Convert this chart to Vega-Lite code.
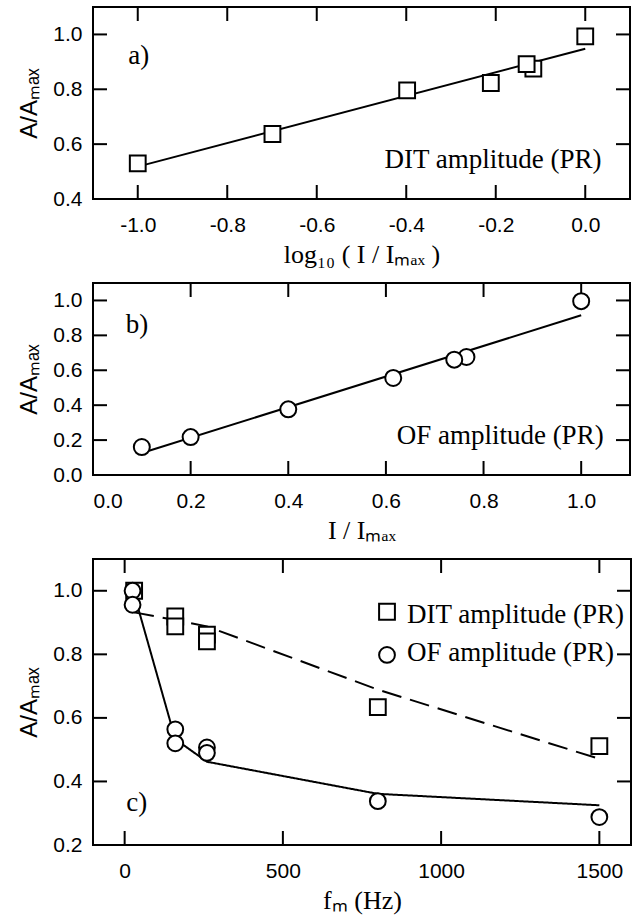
{
  "$schema": "https://vega.github.io/schema/vega-lite/v6.json",
  "background": "white",
  "padding": {"left": 16, "top": 6, "right": 2, "bottom": 2},
  "spacing": 84,
  "bounds": "flush",
  "datasets": {
    "a_pts": [
      {"x": -1.0, "y": 0.530},
      {"x": -0.699, "y": 0.637},
      {"x": -0.398, "y": 0.796},
      {"x": -0.211, "y": 0.823},
      {"x": -0.116, "y": 0.875},
      {"x": -0.131, "y": 0.892},
      {"x": 0.0, "y": 0.993}
    ],
    "a_fit": [
      {"x": -1.0, "y": 0.518},
      {"x": 0.0, "y": 0.948}
    ],
    "a_txt": [
      {"x": -0.998, "y": 0.923, "t": "a)"},
      {"x": -0.206, "y": 0.543, "t": "DIT amplitude (PR)"}
    ],
    "a_tv": [
      {"x": -1.0, "y": 0.4}, {"x": -0.8, "y": 0.4}, {"x": -0.6, "y": 0.4}, {"x": -0.4, "y": 0.4}, {"x": -0.2, "y": 0.4}, {"x": 0.0, "y": 0.4},
      {"x": -1.0, "y": 1.1}, {"x": -0.8, "y": 1.1}, {"x": -0.6, "y": 1.1}, {"x": -0.4, "y": 1.1}, {"x": -0.2, "y": 1.1}, {"x": 0.0, "y": 1.1}
    ],
    "a_th": [
      {"x": -1.1, "y": 0.6}, {"x": -1.1, "y": 0.8}, {"x": -1.1, "y": 1.0},
      {"x": 0.1, "y": 0.6}, {"x": 0.1, "y": 0.8}, {"x": 0.1, "y": 1.0}
    ],
    "b_pts": [
      {"x": 0.1, "y": 0.160},
      {"x": 0.2, "y": 0.217},
      {"x": 0.4, "y": 0.376},
      {"x": 0.615, "y": 0.556},
      {"x": 0.765, "y": 0.676},
      {"x": 0.74, "y": 0.661},
      {"x": 1.0, "y": 0.996}
    ],
    "b_fit": [
      {"x": 0.1, "y": 0.126},
      {"x": 1.0, "y": 0.915}
    ],
    "b_txt": [
      {"x": 0.09, "y": 0.862, "t": "b)"},
      {"x": 0.834, "y": 0.224, "t": "OF amplitude (PR)"}
    ],
    "b_tv": [
      {"x": 0.2, "y": 0}, {"x": 0.4, "y": 0}, {"x": 0.6, "y": 0}, {"x": 0.8, "y": 0}, {"x": 1.0, "y": 0},
      {"x": 0.2, "y": 1.1}, {"x": 0.4, "y": 1.1}, {"x": 0.6, "y": 1.1}, {"x": 0.8, "y": 1.1}, {"x": 1.0, "y": 1.1}
    ],
    "b_th": [
      {"x": 0, "y": 0.2}, {"x": 0, "y": 0.4}, {"x": 0, "y": 0.6}, {"x": 0, "y": 0.8}, {"x": 0, "y": 1.0},
      {"x": 1.1, "y": 0.2}, {"x": 1.1, "y": 0.4}, {"x": 1.1, "y": 0.6}, {"x": 1.1, "y": 0.8}, {"x": 1.1, "y": 1.0}
    ],
    "c_pts": [
      {"f": 30, "y": 1.0, "s": "DIT amplitude (PR)"},
      {"f": 160, "y": 0.919, "s": "DIT amplitude (PR)"},
      {"f": 160, "y": 0.888, "s": "DIT amplitude (PR)"},
      {"f": 260, "y": 0.862, "s": "DIT amplitude (PR)"},
      {"f": 260, "y": 0.841, "s": "DIT amplitude (PR)"},
      {"f": 800, "y": 0.634, "s": "DIT amplitude (PR)"},
      {"f": 1500, "y": 0.511, "s": "DIT amplitude (PR)"},
      {"f": 25, "y": 1.0, "s": "OF amplitude (PR)"},
      {"f": 25, "y": 0.956, "s": "OF amplitude (PR)"},
      {"f": 160, "y": 0.564, "s": "OF amplitude (PR)"},
      {"f": 160, "y": 0.520, "s": "OF amplitude (PR)"},
      {"f": 260, "y": 0.507, "s": "OF amplitude (PR)"},
      {"f": 260, "y": 0.490, "s": "OF amplitude (PR)"},
      {"f": 800, "y": 0.338, "s": "OF amplitude (PR)"},
      {"f": 1500, "y": 0.288, "s": "OF amplitude (PR)"}
    ],
    "c_fit": [
      {"f": 30, "y": 0.932, "s": "DIT"},
      {"f": 160, "y": 0.908, "s": "DIT"},
      {"f": 260, "y": 0.888, "s": "DIT"},
      {"f": 800, "y": 0.689, "s": "DIT"},
      {"f": 1500, "y": 0.471, "s": "DIT"},
      {"f": 30, "y": 0.99, "s": "OF"},
      {"f": 160, "y": 0.533, "s": "OF"},
      {"f": 260, "y": 0.462, "s": "OF"},
      {"f": 800, "y": 0.361, "s": "OF"},
      {"f": 1500, "y": 0.325, "s": "OF"}
    ],
    "c_leg": [
      {"f": 829, "y": 0.934, "s": "DIT amplitude (PR)"},
      {"f": 829, "y": 0.798, "s": "OF amplitude (PR)"}
    ],
    "c_legtxt": [
      {"f": 892, "y": 0.924, "t": "DIT amplitude (PR)"},
      {"f": 892, "y": 0.804, "t": "OF amplitude (PR)"}
    ],
    "c_txt": [
      {"f": 38, "y": 0.333, "t": "c)"}
    ],
    "c_tv": [
      {"f": 0, "y": 0.2}, {"f": 500, "y": 0.2}, {"f": 1000, "y": 0.2}, {"f": 1500, "y": 0.2},
      {"f": 0, "y": 1.1}, {"f": 500, "y": 1.1}, {"f": 1000, "y": 1.1}, {"f": 1500, "y": 1.1}
    ],
    "c_th": [
      {"f": -100, "y": 0.4}, {"f": -100, "y": 0.6}, {"f": -100, "y": 0.8}, {"f": -100, "y": 1.0},
      {"f": 1600, "y": 0.4}, {"f": 1600, "y": 0.6}, {"f": 1600, "y": 0.8}, {"f": 1600, "y": 1.0}
    ]
  },
  "vconcat": [
    {
      "width": 537,
      "height": 192,
      "layer": [
        {
          "data": {"name": "a_fit"},
          "mark": {"type": "line", "color": "black", "strokeWidth": 2},
          "encoding": {
            "x": {"field": "x", "type": "quantitative", "scale": {"domain": [-1.1, 0.1], "nice": false, "zero": false},
              "axis": {"orient": "bottom", "values": [-1, -0.8, -0.6, -0.4, -0.2, 0], "labelExpr": "replace(format(datum.value, '.1f'), '\u2212', '-')", "title": "log₁₀ ( I / Iₘₐₓ )", "ticks": false, "domain": false, "grid": false}},
            "y": {"field": "y", "type": "quantitative", "scale": {"domain": [0.4, 1.1], "nice": false, "zero": false},
              "axis": {"orient": "left", "values": [0.4, 0.6, 0.8, 1.0], "format": ".1f", "title": "A/Aₘₐₓ", "ticks": false, "domain": false, "grid": false}}
          }
        },
        {
          "data": {"name": "a_tv"},
          "mark": {"type": "tick", "orient": "vertical", "color": "black", "size": 28, "thickness": 2, "clip": true, "opacity": 1},
          "encoding": {
            "x": {"field": "x", "type": "quantitative", "axis": null},
            "y": {"field": "y", "type": "quantitative", "axis": null}
          }
        },
        {
          "data": {"name": "a_th"},
          "mark": {"type": "tick", "orient": "horizontal", "color": "black", "size": 28, "thickness": 2, "clip": true, "opacity": 1},
          "encoding": {
            "x": {"field": "x", "type": "quantitative", "axis": null},
            "y": {"field": "y", "type": "quantitative", "axis": null}
          }
        },
        {
          "data": {"name": "a_pts"},
          "mark": {"type": "point", "shape": "square", "filled": true, "fill": "white", "stroke": "black", "strokeWidth": 2, "size": 250, "opacity": 1},
          "encoding": {
            "x": {"field": "x", "type": "quantitative", "axis": null},
            "y": {"field": "y", "type": "quantitative", "axis": null}
          }
        },
        {
          "data": {"name": "a_txt"},
          "mark": {"type": "text", "font": "Liberation Serif", "fontSize": 27, "color": "black"},
          "encoding": {
            "x": {"field": "x", "type": "quantitative", "axis": null},
            "y": {"field": "y", "type": "quantitative", "axis": null},
            "text": {"field": "t"}
          }
        }
      ],
      "resolve": {"axis": {"x": "independent", "y": "independent"}}
    },
    {
      "width": 537,
      "height": 192,
      "layer": [
        {
          "data": {"name": "b_fit"},
          "mark": {"type": "line", "color": "black", "strokeWidth": 2},
          "encoding": {
            "x": {"field": "x", "type": "quantitative", "scale": {"domain": [0, 1.1], "nice": false, "zero": false},
              "axis": {"orient": "bottom", "values": [0, 0.2, 0.4, 0.6, 0.8, 1.0], "format": ".1f", "title": "I / Iₘₐₓ", "ticks": false, "domain": false, "grid": false}},
            "y": {"field": "y", "type": "quantitative", "scale": {"domain": [0, 1.1], "nice": false, "zero": false},
              "axis": {"orient": "left", "values": [0, 0.2, 0.4, 0.6, 0.8, 1.0], "format": ".1f", "title": "A/Aₘₐₓ", "ticks": false, "domain": false, "grid": false}}
          }
        },
        {
          "data": {"name": "b_tv"},
          "mark": {"type": "tick", "orient": "vertical", "color": "black", "size": 28, "thickness": 2, "clip": true, "opacity": 1},
          "encoding": {
            "x": {"field": "x", "type": "quantitative", "axis": null},
            "y": {"field": "y", "type": "quantitative", "axis": null}
          }
        },
        {
          "data": {"name": "b_th"},
          "mark": {"type": "tick", "orient": "horizontal", "color": "black", "size": 28, "thickness": 2, "clip": true, "opacity": 1},
          "encoding": {
            "x": {"field": "x", "type": "quantitative", "axis": null},
            "y": {"field": "y", "type": "quantitative", "axis": null}
          }
        },
        {
          "data": {"name": "b_pts"},
          "mark": {"type": "point", "shape": "circle", "filled": true, "fill": "white", "stroke": "black", "strokeWidth": 2, "size": 256, "opacity": 1},
          "encoding": {
            "x": {"field": "x", "type": "quantitative", "axis": null},
            "y": {"field": "y", "type": "quantitative", "axis": null}
          }
        },
        {
          "data": {"name": "b_txt"},
          "mark": {"type": "text", "font": "Liberation Serif", "fontSize": 27, "color": "black"},
          "encoding": {
            "x": {"field": "x", "type": "quantitative", "axis": null},
            "y": {"field": "y", "type": "quantitative", "axis": null},
            "text": {"field": "t"}
          }
        }
      ],
      "resolve": {"axis": {"x": "independent", "y": "independent"}}
    },
    {
      "width": 538,
      "height": 286,
      "layer": [
        {
          "data": {"name": "c_fit"},
          "mark": {"type": "line", "color": "black", "strokeWidth": 2},
          "encoding": {
            "x": {"field": "f", "type": "quantitative", "scale": {"domain": [-100, 1600], "nice": false, "zero": false},
              "axis": {"orient": "bottom", "values": [0, 500, 1000, 1500], "format": "d", "title": "fₘ (Hz)", "ticks": false, "domain": false, "grid": false}},
            "y": {"field": "y", "type": "quantitative", "scale": {"domain": [0.2, 1.1], "nice": false, "zero": false},
              "axis": {"orient": "left", "values": [0.2, 0.4, 0.6, 0.8, 1.0], "format": ".1f", "title": "A/Aₘₐₓ", "ticks": false, "domain": false, "grid": false}},
            "strokeDash": {"field": "s", "type": "nominal", "scale": {"domain": ["DIT", "OF"], "range": [[20, 9], [1, 0]]}, "legend": null}
          }
        },
        {
          "data": {"name": "c_tv"},
          "mark": {"type": "tick", "orient": "vertical", "color": "black", "size": 28, "thickness": 2, "clip": true, "opacity": 1},
          "encoding": {
            "x": {"field": "f", "type": "quantitative", "axis": null},
            "y": {"field": "y", "type": "quantitative", "axis": null}
          }
        },
        {
          "data": {"name": "c_th"},
          "mark": {"type": "tick", "orient": "horizontal", "color": "black", "size": 28, "thickness": 2, "clip": true, "opacity": 1},
          "encoding": {
            "x": {"field": "f", "type": "quantitative", "axis": null},
            "y": {"field": "y", "type": "quantitative", "axis": null}
          }
        },
        {
          "data": {"name": "c_pts"},
          "mark": {"type": "point", "filled": true, "fill": "white", "stroke": "black", "strokeWidth": 2, "size": 250, "opacity": 1},
          "encoding": {
            "x": {"field": "f", "type": "quantitative", "axis": null},
            "y": {"field": "y", "type": "quantitative", "axis": null},
            "shape": {"field": "s", "type": "nominal", "scale": {"domain": ["DIT amplitude (PR)", "OF amplitude (PR)"], "range": ["square", "circle"]}, "legend": null}
          }
        },
        {
          "data": {"name": "c_leg"},
          "mark": {"type": "point", "filled": true, "fill": "white", "stroke": "black", "strokeWidth": 2, "size": 250, "opacity": 1},
          "encoding": {
            "x": {"field": "f", "type": "quantitative", "axis": null},
            "y": {"field": "y", "type": "quantitative", "axis": null},
            "shape": {"field": "s", "type": "nominal", "legend": null}
          }
        },
        {
          "data": {"name": "c_legtxt"},
          "mark": {"type": "text", "font": "Liberation Serif", "fontSize": 27, "color": "black", "align": "left"},
          "encoding": {
            "x": {"field": "f", "type": "quantitative", "axis": null},
            "y": {"field": "y", "type": "quantitative", "axis": null},
            "text": {"field": "t"}
          }
        },
        {
          "data": {"name": "c_txt"},
          "mark": {"type": "text", "font": "Liberation Serif", "fontSize": 27, "color": "black"},
          "encoding": {
            "x": {"field": "f", "type": "quantitative", "axis": null},
            "y": {"field": "y", "type": "quantitative", "axis": null},
            "text": {"field": "t"}
          }
        }
      ],
      "resolve": {"axis": {"x": "independent", "y": "independent"}}
    }
  ],
  "config": {
    "view": {"stroke": "black", "strokeWidth": 2},
    "axis": {
      "labelFont": "Liberation Sans",
      "labelFontSize": 21,
      "labelColor": "black",
      "titleFont": "Liberation Serif",
      "titleFontSize": 26,
      "titleFontWeight": "normal",
      "titleColor": "black"
    },
    "axisX": {"labelPadding": 15, "titlePadding": 6},
    "axisY": {"labelPadding": 11, "titlePadding": 11, "titleFont": "Liberation Sans", "titleFontSize": 24}
  }
}
